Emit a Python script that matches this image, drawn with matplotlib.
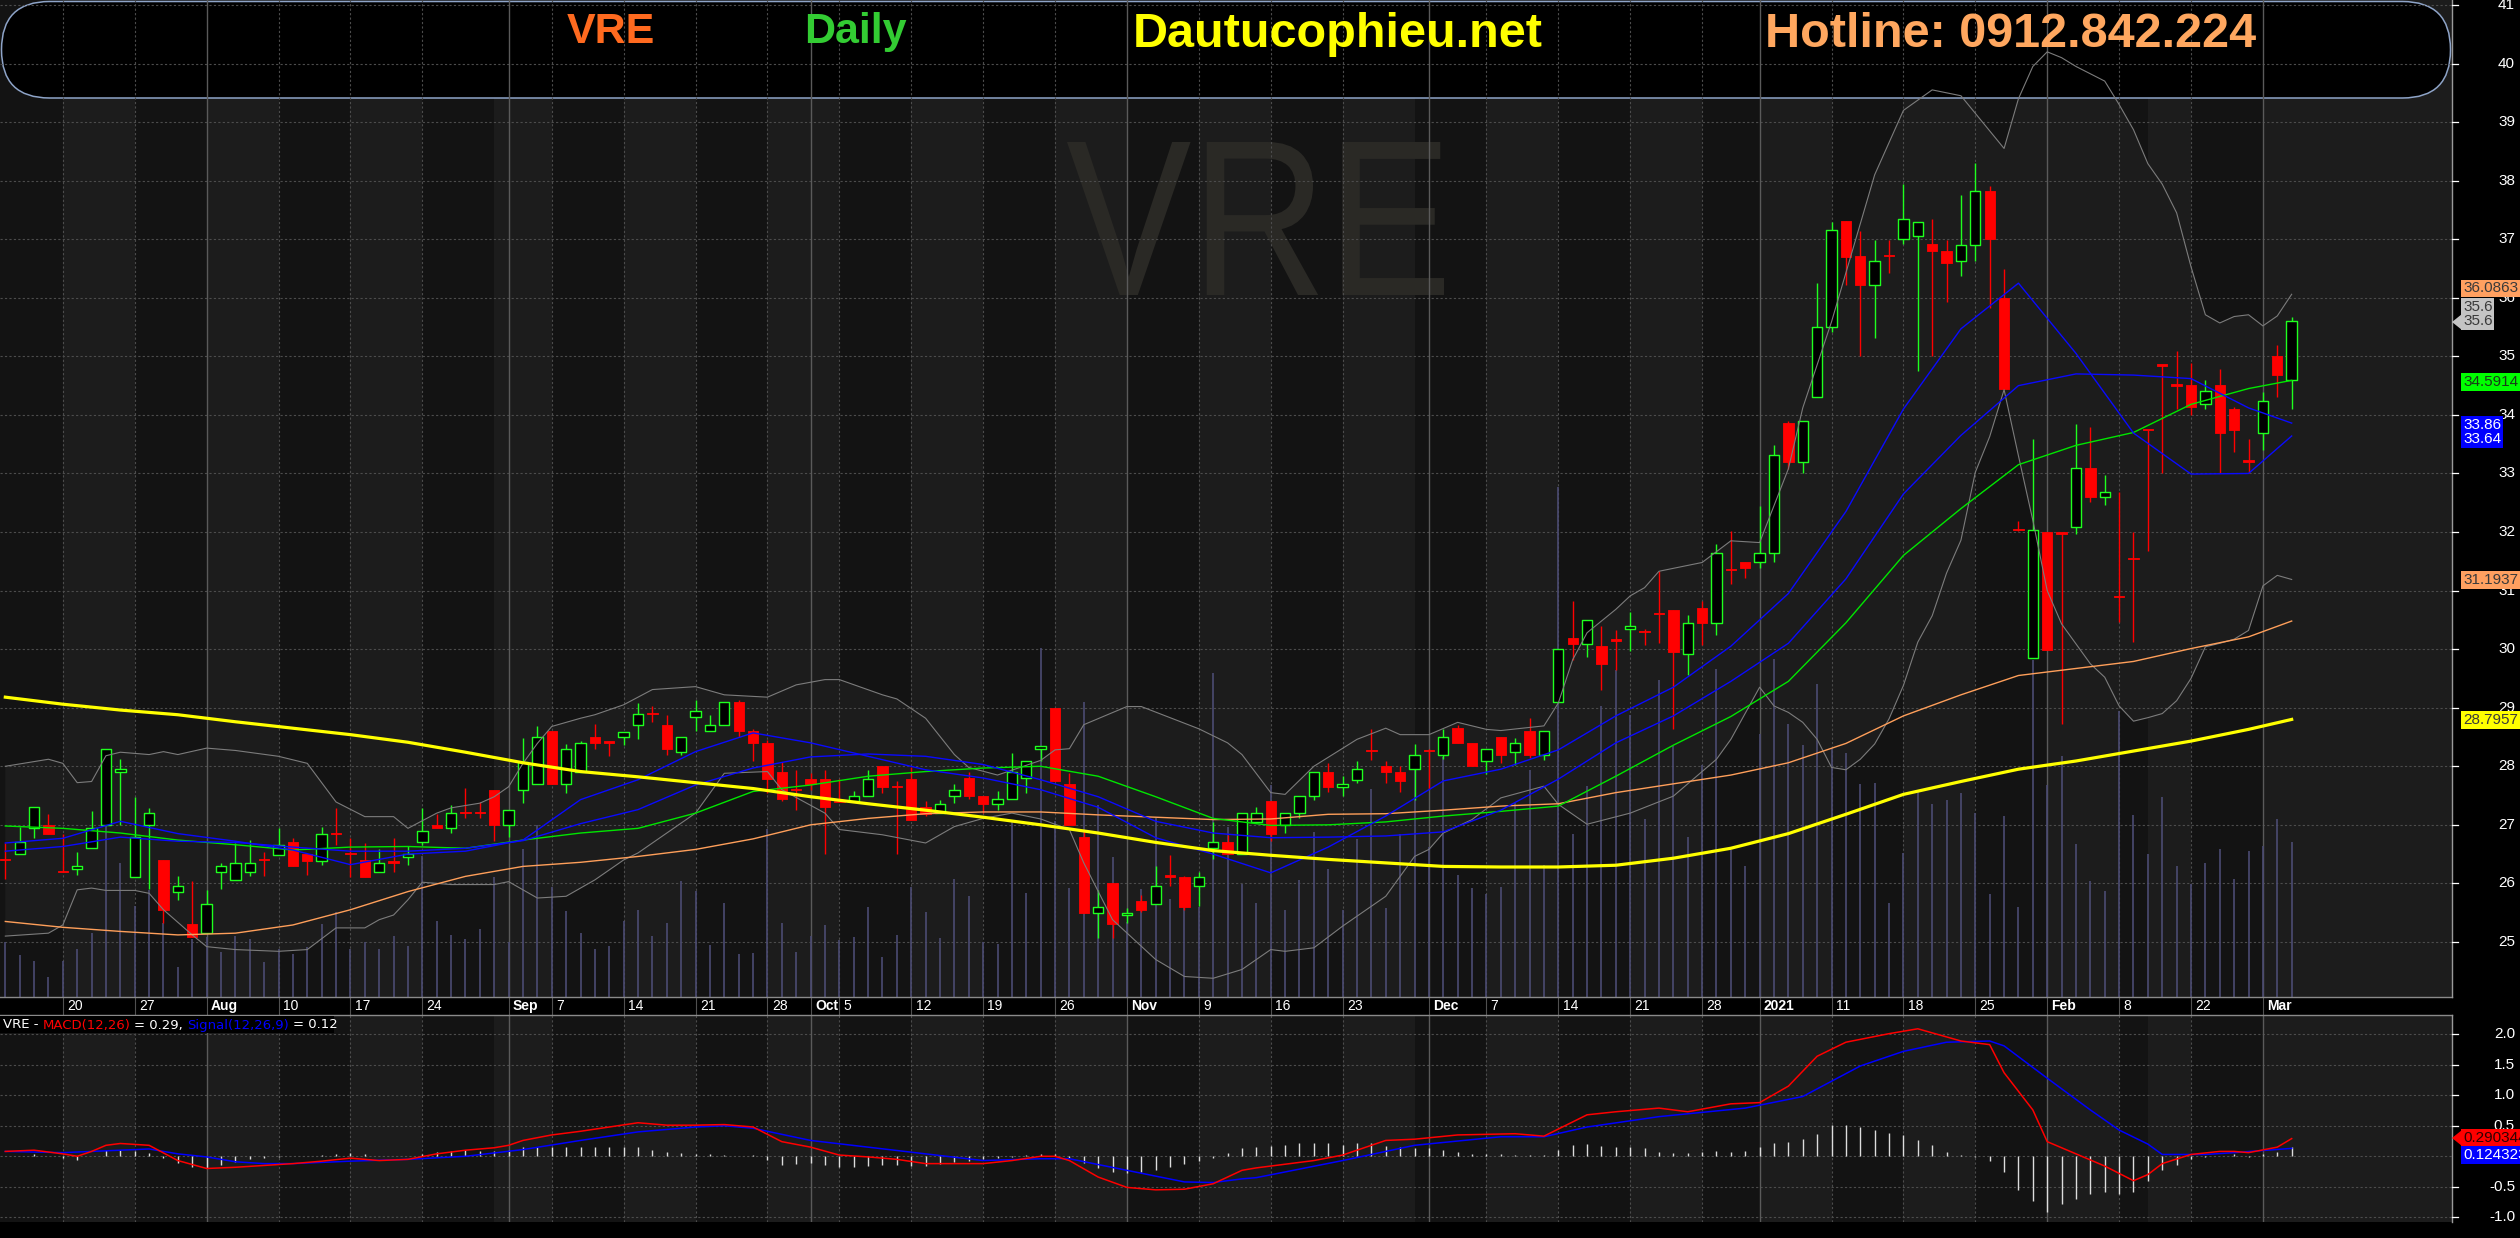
import numpy as np
import matplotlib
matplotlib.use("Agg")
import matplotlib.pyplot as plt
from matplotlib import transforms as mtransforms
from matplotlib.patches import Rectangle, FancyBboxPatch, Polygon, PathPatch
from matplotlib.collections import PatchCollection, LineCollection
from matplotlib.lines import Line2D
from matplotlib.textpath import TextPath
from matplotlib.font_manager import FontProperties

W, H, DPI = 2520, 1238, 100

# ---------------------------------------------------------------- data
open_ = [26.42, 26.50, 26.94, 27.00, 26.20, 26.24, 26.60, 27.00, 27.90, 26.11,
         27.00, 26.40, 25.85, 25.31, 25.15, 26.19, 26.05, 26.19, 26.41, 26.49,
         26.71, 26.51, 26.39, 26.85, 26.51, 26.40, 26.19, 26.36, 26.45, 26.70,
         27.00, 26.94, 27.21, 27.21, 27.60, 27.00, 27.60, 27.70, 28.60, 27.70,
         27.90, 28.50, 28.41, 28.50, 28.70, 28.90, 28.70, 28.24, 28.84, 28.60,
         28.70, 29.10, 28.60, 28.40, 27.90, 27.60, 27.79, 27.79, 27.40, 27.40,
         27.49, 28.00, 27.65, 27.79, 27.30, 27.20, 27.49, 27.80, 27.49, 27.35,
         27.44, 27.80, 28.29, 29.00, 27.69, 26.79, 25.49, 26.00, 25.46, 25.70,
         25.65, 26.12, 26.11, 25.96, 26.60, 26.71, 26.51, 27.05, 27.41, 27.00,
         27.20, 27.50, 27.91, 27.65, 27.76, 28.27, 28.01, 27.91, 27.96, 28.27,
         28.20, 28.66, 28.40, 28.09, 28.50, 28.25, 28.61, 28.19, 29.10, 30.19,
         30.09, 30.05, 30.15, 30.34, 30.30, 30.61, 30.66, 29.91, 30.71, 30.45,
         31.36, 31.49, 31.49, 31.65, 33.86, 33.20, 34.30, 35.50, 37.31, 36.71,
         36.21, 36.72, 37.00, 37.06, 36.91, 36.80, 36.62, 36.90, 37.82, 36.00,
         32.04, 29.85, 32.00, 31.98, 32.09, 33.10, 32.60, 30.90, 31.55, 33.75,
         34.85, 34.51, 34.51, 34.19, 34.51, 34.10, 33.21, 33.69, 35.00, 34.60]
high = [26.69, 26.97, 27.30, 27.19, 26.84, 26.53, 27.24, 28.29, 28.13, 27.47,
        27.29, 26.40, 26.13, 26.04, 25.89, 26.35, 26.69, 26.74, 26.53, 26.94,
        26.78, 26.51, 26.97, 27.29, 26.78, 26.69, 26.59, 26.78, 26.63, 27.29,
        27.19, 27.34, 27.63, 27.39, 27.60, 27.25, 28.48, 28.68, 28.60, 28.38,
        28.43, 28.73, 28.43, 28.59, 29.08, 29.03, 28.88, 28.50, 29.13, 28.88,
        29.09, 29.13, 28.63, 28.45, 28.08, 27.94, 27.88, 27.94, 27.79, 27.58,
        27.94, 28.00, 27.74, 27.99, 27.40, 27.43, 27.69, 27.90, 27.49, 27.57,
        28.22, 28.09, 28.35, 29.00, 27.88, 26.92, 25.89, 26.00, 25.58, 25.80,
        26.29, 26.49, 26.13, 26.19, 27.04, 26.83, 27.20, 27.31, 27.41, 27.20,
        27.50, 27.91, 28.05, 27.84, 28.09, 28.64, 28.09, 28.00, 28.38, 28.30,
        28.64, 28.70, 28.40, 28.30, 28.50, 28.49, 28.83, 28.61, 30.00, 30.82,
        30.50, 30.39, 30.33, 30.63, 30.34, 31.33, 30.66, 30.59, 30.82, 31.79,
        32.02, 31.49, 32.44, 33.48, 33.89, 33.90, 36.25, 37.30, 37.31, 37.14,
        36.99, 36.99, 37.94, 37.30, 37.34, 36.99, 37.76, 38.31, 37.91, 36.49,
        32.18, 33.58, 32.00, 32.00, 33.84, 33.79, 32.98, 32.68, 32.00, 33.75,
        34.85, 35.09, 34.88, 34.59, 34.78, 34.14, 33.58, 34.39, 35.19, 35.68]
low = [26.07, 26.50, 26.77, 26.84, 26.19, 26.15, 26.60, 27.00, 27.00, 26.11,
       25.91, 25.32, 25.71, 25.09, 25.15, 25.91, 26.05, 26.12, 26.12, 26.49,
       26.29, 26.15, 26.31, 26.66, 26.11, 26.11, 26.19, 26.20, 26.31, 26.65,
       26.94, 26.86, 27.11, 27.11, 26.72, 26.80, 27.37, 27.70, 27.70, 27.55,
       27.90, 28.30, 28.17, 28.36, 28.46, 28.75, 28.20, 28.20, 28.61, 28.60,
       28.70, 28.50, 28.09, 27.55, 27.40, 27.26, 27.60, 26.51, 27.39, 27.40,
       27.49, 27.55, 26.51, 27.09, 27.15, 27.20, 27.37, 27.44, 27.20, 27.26,
       27.44, 27.55, 28.09, 27.74, 26.99, 25.49, 25.07, 25.07, 25.32, 25.52,
       25.65, 25.96, 25.55, 25.61, 26.42, 26.51, 26.51, 27.05, 26.72, 26.86,
       27.12, 27.42, 27.56, 27.50, 27.72, 28.10, 27.72, 27.56, 27.43, 27.61,
       28.12, 28.40, 28.00, 27.86, 28.06, 28.02, 28.14, 28.10, 29.10, 29.82,
       29.87, 29.31, 29.65, 29.97, 30.07, 30.11, 28.63, 29.56, 30.07, 30.25,
       31.11, 31.21, 31.39, 31.49, 33.08, 33.00, 34.30, 35.41, 36.21, 35.01,
       35.31, 36.42, 36.91, 34.75, 35.01, 35.92, 36.38, 36.62, 35.82, 34.45,
       32.02, 29.85, 29.99, 28.72, 31.96, 32.51, 32.46, 30.47, 30.12, 31.67,
       33.01, 34.10, 34.00, 34.10, 33.01, 33.36, 33.01, 33.40, 34.31, 34.10]
close = [26.40, 26.70, 27.30, 26.84, 26.19, 26.30, 26.94, 28.29, 27.95, 26.79,
         27.20, 25.54, 25.96, 25.09, 25.65, 26.30, 26.35, 26.35, 26.40, 26.65,
         26.29, 26.39, 26.84, 26.84, 26.50, 26.11, 26.35, 26.35, 26.51, 26.89,
         26.94, 27.20, 27.20, 27.20, 27.00, 27.25, 28.08, 28.50, 27.70, 28.29,
         28.40, 28.40, 28.40, 28.59, 28.89, 28.89, 28.29, 28.50, 28.94, 28.70,
         29.09, 28.60, 28.40, 27.79, 27.44, 27.59, 27.69, 27.30, 27.39, 27.49,
         27.79, 27.64, 27.64, 27.09, 27.19, 27.35, 27.59, 27.49, 27.35, 27.44,
         27.90, 28.09, 28.35, 27.74, 26.99, 25.49, 25.59, 25.30, 25.49, 25.55,
         25.96, 26.11, 25.59, 26.11, 26.70, 26.51, 27.20, 27.20, 26.84, 27.20,
         27.50, 27.91, 27.65, 27.70, 27.96, 28.26, 27.91, 27.75, 28.20, 28.26,
         28.50, 28.40, 28.00, 28.30, 28.19, 28.40, 28.19, 28.61, 30.00, 30.09,
         30.50, 29.74, 30.14, 30.39, 30.29, 30.60, 29.95, 30.45, 30.45, 31.65,
         31.35, 31.38, 31.65, 33.31, 33.20, 33.90, 35.50, 37.16, 36.70, 36.21,
         36.62, 36.71, 37.35, 37.30, 36.80, 36.60, 36.90, 37.82, 37.00, 34.45,
         32.03, 32.03, 29.99, 31.97, 33.10, 32.60, 32.68, 30.89, 31.54, 33.74,
         34.84, 34.50, 34.13, 34.40, 33.69, 33.75, 33.20, 34.24, 34.68, 35.60]
# volume, in 10,000 shares
volume = [275, 210, 180, 100, 180, 240, 320, 860, 670, 455,
          535, 370, 150, 290, 300, 225, 305, 290, 175, 240,
          215, 250, 365, 425, 240, 275, 240, 305, 255, 705,
          380, 310, 290, 340, 600, 275, 740, 860, 550, 430,
          320, 240, 255, 380, 435, 305, 370, 580, 530, 260,
          470, 215, 220, 840, 370, 225, 305, 360, 285, 300,
          450, 200, 310, 550, 425, 295, 590, 505, 275, 265,
          885, 520, 1745, 880, 545, 1475, 960, 700, 375, 540,
          895, 490, 475, 450, 1620, 850, 565, 470, 1060, 435,
          585, 825, 640, 435, 790, 1040, 445, 815, 1210, 750,
          1200, 610, 545, 515, 550, 970, 1135, 660, 2550, 815,
          1055, 1455, 1635, 1410, 890, 1585, 1255, 800, 1160, 1640,
          735, 655, 1315, 1690, 1365, 1260, 1565, 1240, 1220, 1065,
          1070, 470, 720, 1035, 965, 985, 1020, 920, 515, 905,
          450, 1685, 1060, 1205, 765, 580, 530, 1430, 910, 715,
          1000, 655, 565, 670, 740, 590, 730, 755, 890, 775]

# moving averages, read every 4th bar (+ last bar)
ma_idx = list(range(0, 157, 4)) + [159]
ma_yellow = [29.18, 29.06, 28.96, 28.88, 28.76, 28.65, 28.54, 28.41, 28.24, 28.06,
             27.91, 27.82, 27.72, 27.62, 27.48, 27.36, 27.25, 27.13, 27.00, 26.86,
             26.70, 26.56, 26.48, 26.41, 26.35, 26.29, 26.28, 26.28, 26.31, 26.43,
             26.60, 26.85, 27.18, 27.52, 27.74, 27.95, 28.09, 28.26, 28.43, 28.63, 28.80]
ma_orange = [25.35, 25.25, 25.18, 25.12, 25.15, 25.29, 25.55, 25.86, 26.12, 26.29,
             26.36, 26.46, 26.58, 26.76, 27.00, 27.11, 27.19, 27.22, 27.22, 27.17,
             27.13, 27.09, 27.10, 27.18, 27.19, 27.25, 27.32, 27.36, 27.55, 27.70,
             27.85, 28.06, 28.39, 28.86, 29.22, 29.55, 29.67, 29.79, 30.01, 30.21, 30.48]
ma_green = [26.98, 26.94, 26.86, 26.74, 26.66, 26.57, 26.62, 26.63, 26.60, 26.74,
            26.86, 26.94, 27.20, 27.57, 27.68, 27.83, 27.91, 27.97, 28.00, 27.83,
            27.48, 27.11, 26.99, 27.00, 27.05, 27.15, 27.23, 27.32, 27.83, 28.36,
            28.85, 29.45, 30.45, 31.60, 32.40, 33.15, 33.48, 33.70, 34.18, 34.45, 34.59]
ma_blue1 = [26.69, 26.77, 27.06, 26.85, 26.72, 26.57, 26.32, 26.50, 26.55, 26.74,
            27.43, 27.77, 28.25, 28.57, 28.40, 28.17, 27.94, 27.80, 27.60, 27.30,
            26.78, 26.50, 26.18, 26.62, 27.15, 27.75, 27.95, 28.28, 28.86, 29.35,
            30.05, 30.95, 32.35, 34.10, 35.47, 36.25, 35.05, 33.69, 32.99, 33.00, 33.64]
ma_blue2 = [26.55, 26.63, 26.79, 26.72, 26.70, 26.62, 26.55, 26.55, 26.60, 26.73,
            27.02, 27.26, 27.68, 27.97, 28.16, 28.21, 28.17, 28.03, 27.77, 27.48,
            27.06, 26.86, 26.78, 26.79, 26.81, 26.88, 27.25, 27.78, 28.40, 28.86,
            29.45, 30.10, 31.20, 32.65, 33.65, 34.50, 34.70, 34.68, 34.62, 34.12, 33.86]

# Bollinger bands
bb_up_idx = [0, 3, 4, 5, 6, 7, 8, 10, 11, 12,
             14, 16, 19, 21, 23, 25, 27, 28, 30, 31,
             33, 34, 35, 36, 37, 38, 40, 41, 43, 45,
             48, 50, 53, 55, 57, 58, 61, 62, 64, 66,
             67, 69, 72, 73, 74, 75, 78, 79, 83, 85,
             86, 88, 89, 91, 94, 96, 97, 99, 101, 103,
             104, 107, 108, 109, 110, 112, 113, 114, 115, 118,
             120, 122, 124, 125, 127, 130, 132, 134, 136, 139,
             140, 141, 142, 143, 144, 146, 147, 148, 149, 150,
             151, 152, 153, 154, 155, 156, 157, 158, 159]
bb_up = [28.00, 28.12, 28.05, 27.72, 27.74, 28.18, 28.24, 28.20, 28.25, 28.20,
         28.31, 28.27, 28.17, 28.05, 27.39, 27.14, 27.14, 26.94, 27.20, 27.29,
         27.37, 27.48, 27.65, 28.05, 28.39, 28.68, 28.82, 28.88, 29.05, 29.31,
         29.36, 29.22, 29.18, 29.39, 29.48, 29.48, 29.22, 29.15, 28.82, 28.20,
         27.98, 27.85, 28.10, 28.28, 28.30, 28.71, 29.02, 29.02, 28.64, 28.40,
         28.20, 27.55, 27.52, 28.00, 28.46, 28.65, 28.54, 28.54, 28.75, 28.63,
         28.61, 28.69, 29.08, 29.82, 30.28, 30.68, 30.91, 31.05, 31.33, 31.48,
         31.85, 31.82, 33.08, 34.12, 35.59, 38.10, 39.20, 39.55, 39.45, 38.55,
         39.40, 39.95, 40.20, 40.10, 39.95, 39.70, 39.30, 38.87, 38.29, 37.94,
         37.45, 36.53, 35.71, 35.57, 35.68, 35.71, 35.52, 35.69, 36.06]
bb_lo_idx = [0, 3, 4, 5, 6, 7, 9, 10, 11, 13,
             14, 16, 19, 21, 23, 25, 26, 27, 28, 29,
             31, 34, 35, 37, 39, 41, 43, 44, 48, 50,
             53, 54, 57, 58, 61, 64, 66, 68, 70, 72,
             74, 75, 77, 80, 82, 84, 86, 88, 89, 91,
             93, 96, 98, 99, 100, 102, 104, 107, 108, 110,
             113, 116, 119, 120, 122, 123, 124, 125, 126, 127,
             128, 129, 130, 131, 132, 133, 134, 135, 136, 137,
             138, 139, 140, 141, 142, 143, 144, 145, 146, 147,
             148, 149, 150, 151, 152, 153, 154, 155, 156, 157,
             158, 159]
bb_lo = [25.10, 25.15, 25.29, 25.89, 25.92, 25.88, 25.88, 25.83, 25.55, 25.12,
         24.92, 24.87, 24.84, 24.87, 25.24, 25.24, 25.38, 25.46, 25.72, 26.02,
         25.98, 25.98, 26.03, 25.75, 25.78, 26.06, 26.40, 26.52, 27.20, 27.88,
         27.91, 27.60, 27.20, 26.92, 26.83, 26.69, 26.97, 27.11, 27.20, 27.10,
         26.92, 26.35, 25.38, 24.70, 24.41, 24.38, 24.53, 24.87, 24.84, 24.90,
         25.27, 25.78, 26.46, 26.58, 26.86, 27.09, 27.46, 27.66, 27.35, 27.01,
         27.20, 27.49, 28.12, 28.46, 29.35, 29.03, 28.92, 28.75, 28.46, 27.98,
         27.94, 28.12, 28.38, 28.81, 29.38, 30.12, 30.57, 31.30, 31.86, 33.02,
         33.63, 34.43, 33.30, 32.20, 31.00, 30.43, 30.09, 29.75, 29.52, 29.03,
         28.77, 28.83, 28.90, 29.12, 29.50, 30.04, 30.10, 30.17, 30.32, 31.08,
         31.26, 31.19]

# MACD panel
macd_idx = [0, 2, 4, 5, 6, 7, 8, 10, 12, 14,
            16, 18, 20, 22, 24, 26, 28, 30, 32, 34,
            35, 36, 38, 40, 42, 44, 46, 48, 50, 52,
            54, 56, 58, 60, 62, 64, 66, 68, 70, 72,
            73, 74, 76, 78, 80, 82, 84, 86, 87, 91,
            93, 96, 98, 101, 105, 107, 110, 112, 115, 117,
            120, 122, 124, 126, 128, 131, 133, 136, 138, 139,
            141, 142, 144, 146, 148, 149, 150, 152, 154, 155,
            156, 158, 159]
macd = [0.08, 0.10, 0.04, 0.00, 0.08, 0.18, 0.21, 0.18, -0.07, -0.20,
        -0.18, -0.15, -0.12, -0.08, -0.03, -0.07, -0.05, 0.04, 0.10, 0.14,
        0.18, 0.26, 0.35, 0.41, 0.48, 0.55, 0.51, 0.51, 0.52, 0.48,
        0.24, 0.15, 0.02, -0.01, -0.05, -0.12, -0.12, -0.12, -0.07, 0.00,
        0.00, -0.07, -0.34, -0.51, -0.55, -0.54, -0.45, -0.23, -0.19, -0.07,
        0.02, 0.26, 0.28, 0.35, 0.37, 0.33, 0.68, 0.73, 0.79, 0.73,
        0.86, 0.88, 1.15, 1.64, 1.87, 2.01, 2.09, 1.89, 1.83, 1.37,
        0.76, 0.24, 0.04, -0.16, -0.40, -0.30, -0.12, 0.03, 0.08, 0.08,
        0.06, 0.15, 0.29]
sig_idx = [0, 4, 8, 10, 12, 14, 16, 18, 20, 24,
           28, 32, 36, 40, 44, 48, 50, 52, 56, 60,
           64, 68, 72, 74, 78, 82, 84, 86, 87, 93,
           98, 104, 107, 110, 115, 121, 125, 129, 132, 135,
           138, 139, 142, 145, 147, 149, 150, 153, 155, 159]
signal = [0.08, 0.06, 0.10, 0.12, 0.04, -0.01, -0.09, -0.12, -0.12, -0.08,
          -0.05, 0.00, 0.11, 0.26, 0.40, 0.48, 0.50, 0.46, 0.26, 0.15,
          0.04, -0.07, -0.04, -0.04, -0.23, -0.42, -0.43, -0.37, -0.35, -0.07,
          0.18, 0.32, 0.32, 0.48, 0.65, 0.79, 0.98, 1.48, 1.72, 1.87,
          1.89, 1.81, 1.28, 0.76, 0.43, 0.20, 0.03, 0.03, 0.06, 0.13]
hist = [0.00, 0.01, 0.03, 0.00, -0.02, -0.06, 0.01, 0.10, 0.11, 0.09,
        0.06, -0.02, -0.11, -0.17, -0.19, -0.14, -0.09, -0.05, -0.03, -0.01,
        0.00, 0.01, 0.02, 0.04, 0.05, 0.03, 0.00, 0.00, 0.00, 0.04,
        0.07, 0.08, 0.10, 0.09, 0.08, 0.10, 0.15, 0.16, 0.16, 0.16,
        0.15, 0.16, 0.15, 0.15, 0.15, 0.11, 0.07, 0.05, 0.03, 0.03,
        0.02, 0.01, 0.02, -0.06, -0.14, -0.12, -0.11, -0.14, -0.17, -0.17,
        -0.16, -0.15, -0.15, -0.16, -0.16, -0.13, -0.10, -0.07, -0.05, -0.03,
        -0.01, 0.02, 0.04, 0.04, -0.03, -0.11, -0.20, -0.25, -0.28, -0.26,
        -0.22, -0.17, -0.12, -0.07, -0.02, 0.06, 0.14, 0.16, 0.17, 0.18,
        0.21, 0.22, 0.21, 0.18, 0.22, 0.21, 0.17, 0.15, 0.14, 0.13,
        0.11, 0.07, 0.04, 0.03, 0.04, 0.02, 0.02, 0.02, 0.10, 0.18,
        0.20, 0.17, 0.15, 0.15, 0.13, 0.07, 0.05, 0.05, 0.07, 0.08,
        0.07, 0.09, 0.15, 0.22, 0.24, 0.28, 0.37, 0.51, 0.52, 0.48,
        0.43, 0.39, 0.35, 0.26, 0.18, 0.07, 0.02, -0.01, -0.07, -0.26,
        -0.56, -0.74, -0.92, -0.78, -0.70, -0.62, -0.59, -0.62, -0.59, -0.40,
        -0.23, -0.15, -0.04, -0.01, 0.01, 0.03, -0.01, 0.03, 0.07, 0.15]

# date axis
tick_idx = [4, 9, 14, 19, 24, 29, 35, 38, 43, 48, 53, 56, 58, 63, 68, 73, 78,
            83, 88, 93, 99, 103, 108, 113, 118, 122, 127, 132, 137, 142, 147, 152, 157]
tick_lab = ['20', '27', 'Aug', '10', '17', '24', 'Sep', '7', '14', '21', '28',
            'Oct', '5', '12', '19', '26', 'Nov', '9', '16', '23', 'Dec', '7',
            '14', '21', '28', '2021', '11', '18', '25', 'Feb', '8', '22', 'Mar']
month_lab = ['Aug', 'Sep', 'Oct', 'Nov', 'Dec', '2021', 'Feb', 'Mar']
# first bar of each calendar week (background bands alternate by week)
week_start = [0, 4, 9, 14, 19, 24, 29, 34, 38, 43, 48, 53, 58, 63, 68, 73, 78,
              83, 88, 93, 98, 103, 108, 113, 118, 122, 127, 132, 137, 142, 147,
              149, 152, 157]

price_ticks = list(range(25, 42))
macd_ticks = [2.0, 1.5, 1.0, 0.5, -0.5, -1.0]
macd_tick_lab = ['2.0', '1.5', '1.0', '0.5', '-0.5', '-1.0']

# ---------------------------------------------------------------- layout
PANEL_R = 2452
PRICE_BOT = 997
BAND_BOT = 1015
MACD_BOT = 1222
XL = (-0.37, 170.15)
LIGHT, DARK = '#1c1c1c', '#131313'
GRID, MGRID = '#4c4c4c', '#5a5a5a'
SANS = ['Liberation Sans', 'DejaVu Sans']


def fy(py):
    return 1 - py / H


def week_bands(axis):
    bnds = week_start + [XL[1]]
    for k in range(len(week_start)):
        if k % 2 == 1:
            axis.axvspan(bnds[k], bnds[k + 1], color=LIGHT, lw=0, zorder=0)


fig = plt.figure(figsize=(W / DPI, H / DPI), dpi=DPI, facecolor='black')

n = len(close)
xs = np.arange(n)
o, hh, ll, c = map(np.array, (open_, high, low, close))

# ---------------- price panel
ax = fig.add_axes([0, fy(PRICE_BOT), PANEL_R / W, PRICE_BOT / H])
ax.set_facecolor(DARK)
for s in ax.spines.values():
    s.set_visible(False)
ax.set_xticks([])
ax.set_yticks([])

week_bands(ax)
ax.fill(np.concatenate([bb_up_idx, bb_lo_idx[::-1]]),
        np.concatenate([bb_up, bb_lo[::-1]]), color=LIGHT, lw=0, zorder=0.1)

hb = FancyBboxPatch((1.5, H - 98), PANEL_R - 3, 96.5,
                    boxstyle='round,pad=0,rounding_size=48',
                    transform=mtransforms.IdentityTransform(),
                    fc='black', ec='#8ea4c8', lw=1.1, zorder=0.5)
ax.add_patch(hb)

for p in price_ticks:
    ax.axhline(p, color=GRID, lw=0.8, ls=(0, (2, 2)), zorder=1)
for xi, lab in zip(tick_idx, tick_lab):
    if lab in month_lab:
        ax.axvline(xi, color=MGRID, lw=1.0, zorder=1)
    else:
        ax.axvline(xi, color=GRID, lw=0.8, ls=(0, (2, 2)), zorder=1)

# watermark (narrow, thin letters)
tp = TextPath((0, 0), 'VRE', size=100, prop=FontProperties(family='Liberation Sans'))
ext = tp.get_extents()
wm_tr = (mtransforms.Affine2D().translate(-ext.x0, -ext.y0)
         .scale(377.0 / ext.width, 153.0 / ext.height)
         .translate(1067, H - 295)) + mtransforms.IdentityTransform()
ax.add_patch(PathPatch(tp, transform=wm_tr, fc='#2a2925', ec='none', zorder=0.8))

ax.vlines(xs, 0, np.array(volume) / (PRICE_BOT * 5.0),
          transform=ax.get_xaxis_transform(), color='#4b4b72', lw=1.2, zorder=2)

# candles
up = c >= o
wick_segs = [[(i, ll[i]), (i, hh[i])] for i in range(n)]
wick_cols = ['#1eff1e' if u else '#ff0000' for u in up]
ax.add_collection(LineCollection(wick_segs, colors=wick_cols, linewidths=1.0, zorder=4))
BW = 0.72
r_up, r_dn = [], []
for i in range(n):
    bot = min(o[i], c[i])
    ht = max(abs(c[i] - o[i]), 0.025)
    (r_up if up[i] else r_dn).append(Rectangle((i - BW / 2, bot), BW, ht))
ax.add_collection(PatchCollection(r_up, facecolor='black', edgecolor='#1eff1e',
                                  linewidths=1.0, zorder=5))
ax.add_collection(PatchCollection(r_dn, facecolor='#ff0000', edgecolor='#ff0000',
                                  linewidths=0.6, zorder=5))

# indicator lines
ax.plot(bb_up_idx, bb_up, color='#7c7c7c', lw=0.8, zorder=6)
ax.plot(bb_lo_idx, bb_lo, color='#7c7c7c', lw=0.8, zorder=6)
ax.plot(ma_idx, ma_orange, color='#ff9f5a', lw=1.0, zorder=6)
ax.plot(ma_idx, ma_green, color='#00e600', lw=1.0, zorder=6)
ax.plot(ma_idx, ma_blue2, color='#0a0aff', lw=1.0, zorder=6)
ax.plot(ma_idx, ma_blue1, color='#0a0aff', lw=1.0, zorder=6)
ax.plot(ma_idx, ma_yellow, color='#ffff00', lw=2.3, zorder=6.5)

ax.set_xlim(*XL)
ax.set_ylim(24.06, 41.085)

# ---------------- date band
axd = fig.add_axes([0, fy(BAND_BOT), PANEL_R / W, (BAND_BOT - PRICE_BOT) / H])
axd.set_facecolor('black')
for s in axd.spines.values():
    s.set_visible(False)
axd.set_xticks([])
axd.set_yticks([])
axd.set_xlim(*XL)
axd.set_ylim(0, 1)
for xi, lab in zip(tick_idx, tick_lab):
    axd.axvline(xi, color='#505050', lw=0.8)
    axd.text(xi + 0.3, 0.48, lab, color='white', fontsize=10,
             fontweight='bold' if lab in month_lab else 'normal',
             ha='left', va='center', family=SANS)

# ---------------- MACD panel
axm = fig.add_axes([0, fy(MACD_BOT), PANEL_R / W, (MACD_BOT - BAND_BOT) / H])
axm.set_facecolor(DARK)
for s in axm.spines.values():
    s.set_visible(False)
axm.set_xticks([])
axm.set_yticks([])
week_bands(axm)
for v in [2.0, 1.5, 1.0, 0.5, 0.0, -0.5, -1.0]:
    axm.axhline(v, color=GRID, lw=0.8, ls=(0, (2, 2)), zorder=1)
for xi, lab in zip(tick_idx, tick_lab):
    if lab in month_lab:
        axm.axvline(xi, color=MGRID, lw=1.0, zorder=1)
    else:
        axm.axvline(xi, color=GRID, lw=0.8, ls=(0, (2, 2)), zorder=1)
axm.vlines(xs, 0, hist, color='#dcdcdc', lw=1.0, zorder=2)
axm.plot(sig_idx, signal, color='#0000ff', lw=1.1, zorder=3)
axm.plot(macd_idx, macd, color='#ff0000', lw=1.1, zorder=4)
axm.set_xlim(*XL)
axm.set_ylim(-1.077, 2.316)


# ---------------- frame lines
def fig_line(x0, y0, x1, y1, color, lw=1.0):
    fig.add_artist(Line2D([x0 / W, x1 / W], [fy(y0), fy(y1)],
                          transform=fig.transFigure, color=color, lw=lw))


fig_line(0, PRICE_BOT, PANEL_R, PRICE_BOT, '#8a8a8a')
fig_line(0, BAND_BOT, PANEL_R, BAND_BOT, '#8a8a8a')
fig_line(PANEL_R, 0, PANEL_R, PRICE_BOT, '#9a9a9a')
fig_line(PANEL_R, BAND_BOT, PANEL_R, MACD_BOT, '#9a9a9a')

# right axis labels
tr_p = mtransforms.blended_transform_factory(fig.transFigure, ax.transData)
tr_m = mtransforms.blended_transform_factory(fig.transFigure, axm.transData)
for p in price_ticks:
    fig.add_artist(Line2D([PANEL_R / W, (PANEL_R + 6) / W], [p, p], transform=tr_p,
                          color='white', lw=0.9))
    fig.text(2515 / W, p, str(p), transform=tr_p, ha='right', va='center',
             color='white', fontsize=11, family=SANS)
for v, lab in zip(macd_ticks, macd_tick_lab):
    fig.add_artist(Line2D([PANEL_R / W, (PANEL_R + 6) / W], [v, v], transform=tr_m,
                          color='white', lw=0.9))
    fig.text(2515 / W, v, lab, transform=tr_m, ha='right', va='center',
             color='white', fontsize=11, family=SANS)


def tag(tr, yv, s, fc, tc):
    fig.text(2463 / W, yv, s, transform=tr, ha='left', va='center', color=tc,
             fontsize=11, family=SANS, linespacing=1.05, zorder=10,
             bbox=dict(boxstyle='square,pad=0.12', fc=fc, ec='none'))


def arrow(py, color):
    fig.add_artist(Polygon([[PANEL_R / W, fy(py)], [(PANEL_R + 10) / W, fy(py - 8)],
                            [(PANEL_R + 10) / W, fy(py + 8)]], closed=True,
                           transform=fig.transFigure, fc=color, ec='none', zorder=10))


tag(tr_p, 36.16, '36.0863', '#ffa060', '#3a3a3a')
tag(tr_p, 35.72, '35.6\n35.6', '#c4c4c4', '#3a3a3a')
arrow(322, '#c4c4c4')
tag(tr_p, 34.56, '34.5914', '#00ff00', '#1a3a1a')
tag(tr_p, 33.71, '33.86\n33.64', '#0000ff', 'white')
tag(tr_p, 31.18, '31.1937', '#ffa060', '#3a3a3a')
tag(tr_p, 28.79, '28.7957', '#ffff00', '#3a3a3a')
tag(tr_m, 0.30, '0.290344', '#ff0000', '#300000')
arrow(1138, '#ff0000')
tag(tr_m, 0.02, '0.124323', '#0000ff', 'white')

# MACD legend
fig.add_artist(Rectangle((0, fy(1033)), 334 / W, 17 / H, transform=fig.transFigure,
                         fc='black', ec='none', zorder=9))
renderer = fig.canvas.get_renderer()
xpos = 3
for s, col in [('VRE -', 'white'), ('MACD(12,26)', '#ff0000'), ('= 0.29,', 'white'),
               ('Signal(12,26,9)', '#0000ff'), ('= 0.12', 'white')]:
    t = fig.text(xpos / W, fy(1025), s, color=col, fontsize=9.5, ha='left',
                 va='center', family='DejaVu Sans', zorder=11)
    bb = t.get_window_extent(renderer)
    xpos = bb.x1 + 4

# header texts
fig.text(567 / W, fy(43), 'VRE', color='#ff6a1f', fontsize=31, fontweight='bold',
         ha='left', va='baseline', family=SANS, zorder=12)
fig.text(804 / W, fy(43), 'Daily', color='#33cc33', fontsize=31, fontweight='bold',
         ha='left', va='baseline', family=SANS, zorder=12)
fig.text(1133 / W, fy(47), 'Dautucophieu.net', color='#ffff00', fontsize=35,
         fontweight='bold', ha='left', va='baseline', family=SANS, zorder=12)
fig.text(1765 / W, fy(47), 'Hotline: 0912.842.224', color='#ffa75f', fontsize=35,
         fontweight='bold', ha='left', va='baseline', family=SANS, zorder=12)

fig.savefig('out.png', dpi=DPI, facecolor='black')
